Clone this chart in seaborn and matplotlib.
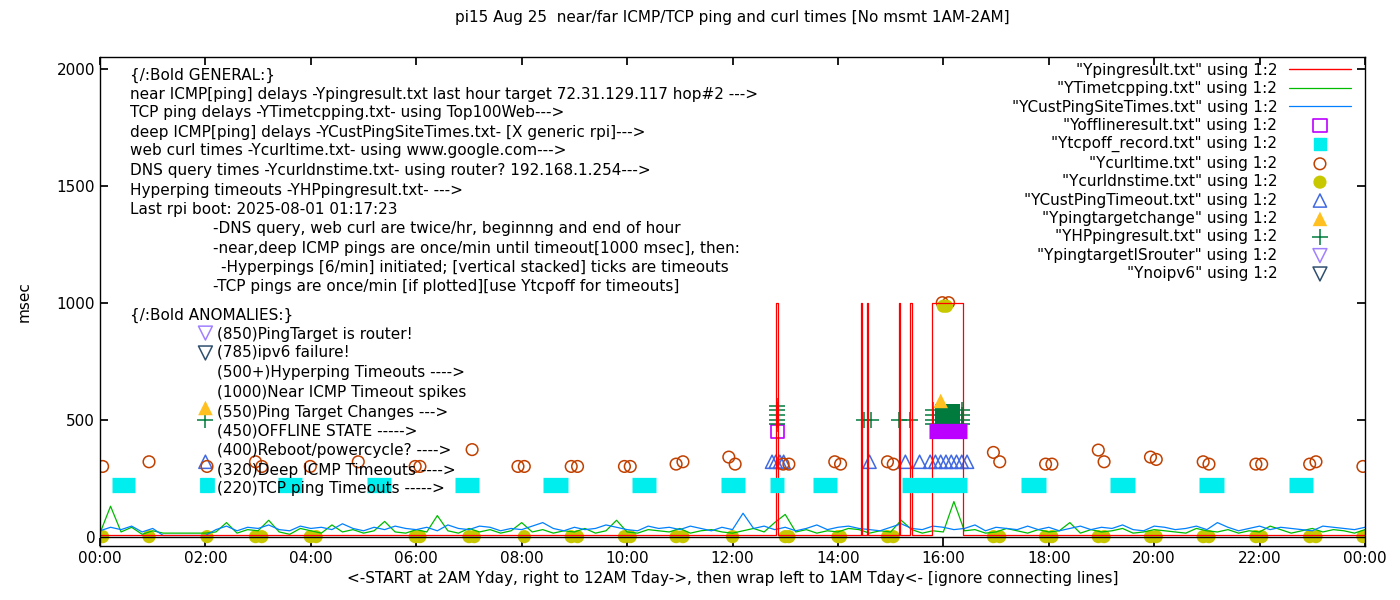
# =========================================================
# PI15 NEAR/FAR PING AND CURL TIMES
# =========================================================

import numpy as np
import matplotlib.pyplot as plt
import seaborn as sns

# =========================================================
# DATA (hours since midnight, msec)
# =========================================================
red_x = [0.0, 12.82, 12.82, 12.86, 12.86, 12.9, 14.43, 14.43, 14.45, 14.45, 14.56, 14.56, 14.58, 14.58,
         15.15, 15.15, 15.18, 15.18, 15.37, 15.37, 15.4, 15.4, 15.79, 15.79, 16.38, 16.38, 24.0]
red_y = [5, 5, 1000, 1000, 5, 5, 5, 1000, 1000, 5, 5, 1000, 1000, 5,
         5, 1000, 1000, 5, 5, 1000, 1000, 5, 5, 1000, 1000, 5, 5]

blue = [25, 40, 30, 45, 20, 35, 5, 5, 5, 5, 5, 30, 45, 25, 40, 35, 50, 30, 25, 45,
        35, 40, 30, 55, 35, 25, 40, 30, 45, 35, 30, 40, 25, 50, 35, 30, 45, 40, 25, 35,
        30, 45, 60, 35, 25, 40, 30, 35, 50, 40, 30, 25, 45, 35, 40, 30, 45, 35, 25, 40,
        30, 100, 35, 45, 30, 40, 25, 35, 50, 30, 40, 45, 35, 30, 25, 40, 55, 35, 30, 45,
        40, 30, 35, 50, 25, 40, 35, 30, 45, 30, 40, 25, 35, 45, 30, 40, 35, 50, 30, 25,
        45, 40, 30, 35, 45, 30, 60, 40, 25, 35, 45, 30, 40, 35, 30, 25, 45, 40, 35, 30, 40]
green = [15, 130, 20, 40, 10, 25, 15, 15, 15, 15, 15, 20, 60, 15, 30, 25, 70, 20, 10, 35,
         25, 15, 50, 20, 30, 15, 25, 65, 20, 15, 30, 20, 90, 25, 15, 35, 20, 30, 15, 25,
         60, 20, 30, 15, 25, 20, 35, 15, 25, 70, 20, 15, 30, 25, 20, 35, 15, 25, 30, 20,
         15, 25, 35, 20, 60, 95, 20, 30, 15, 25, 20, 35, 30, 15, 25, 20, 70, 30, 15, 25,
         20, 150, 25, 30, 15, 20, 35, 25, 15, 30, 20, 25, 60, 15, 30, 20, 25, 35, 15, 20,
         30, 25, 20, 15, 35, 25, 20, 30, 15, 25, 20, 45, 30, 15, 25, 35, 20, 30, 25, 15, 30]

curl_x = [0.05, 0.93, 2.03, 2.95, 3.07, 3.99, 4.9, 5.98, 6.07, 7.06, 7.93, 8.05, 8.94, 9.06,
          9.95, 10.06, 10.93, 11.06, 11.93, 12.05, 12.96, 13.07, 13.94, 14.05, 14.94, 15.05,
          15.98, 16.1, 16.95, 17.07, 17.94, 18.06, 18.94, 19.05, 19.93, 20.04, 20.93, 21.04,
          21.93, 22.04, 22.95, 23.07, 23.96]
curl_y = [300, 320, 300, 320, 300, 300, 320, 300, 300, 372, 300, 300, 300, 300,
          300, 300, 310, 320, 340, 310, 310, 310, 320, 310, 320, 310,
          1000, 1000, 360, 320, 310, 310, 370, 320, 340, 330, 320, 310,
          310, 310, 310, 320, 300]
dns_x = [0.05, 0.93, 2.03, 2.95, 3.07, 3.99, 4.1, 5.98, 6.07, 7.0, 7.1, 8.05, 8.94, 9.06,
         9.95, 10.06, 10.93, 11.06, 12.0, 13.0, 13.07, 14.0, 14.05, 14.94, 15.05, 16.0, 16.06,
         16.95, 17.07, 17.94, 18.06, 18.94, 19.05, 19.93, 20.04, 20.93, 21.04, 21.93, 22.04,
         22.95, 23.07, 23.96]
dns_y = [0, 0, 0, 0, 0, 0, 0, 0, 0, 0, 0, 0, 0, 0,
         0, 0, 0, 0, 0, 0, 0, 0, 0, 0, 0, 985, 985,
         0, 0, 0, 0, 0, 0, 0, 0, 0, 0, 0, 0,
         0, 0, 0]

tcpoff_start = [0.22, 1.9, 3.38, 5.06, 6.74, 8.41, 10.1, 11.78, 12.71, 13.53, 15.22, 17.48, 19.17, 20.86, 22.55]
tcpoff_end = [0.66, 2.12, 3.83, 5.52, 7.19, 8.87, 10.55, 12.24, 12.97, 13.98, 16.45, 17.95, 19.64, 21.33, 23.02]
tcpoff_y = [220] * len(tcpoff_start)

offline_x = [12.85]
offline_y = [450]
offline_fill_start, offline_fill_end, offline_fill_y = 15.72, 16.45, 450

custto_x = [2.0, 12.75, 12.82, 12.9, 12.97, 14.6, 15.28, 15.55, 15.75, 15.85, 15.95, 16.05, 16.15, 16.25, 16.35, 16.45]
custto_y = [320] * len(custto_x)

hp_x = [12.85, 12.85, 12.85, 12.85, 12.85, 14.5, 14.62, 15.15, 15.37, 15.8, 15.8, 15.8, 15.8, 16.35, 16.35, 16.35, 16.35, 2.0]
hp_y = [480, 500, 520, 540, 560, 500, 500, 500, 500, 480, 500, 520, 540, 480, 500, 520, 540, 500]
hp_block = (15.85, 16.32, 470, 565)

change_x = [15.95, 2.0]
change_y = [580, 550]
router_x, router_y = [2.0], [870]
noipv6_x, noipv6_y = [2.0], [785]
cyan_note_x, cyan_note_y = [2.03], [220]

# =========================================================
# ANNOTATION TEXT (pixel positions of the reference)
# =========================================================
notes = [
    (130, 75, "{/:Bold GENERAL:}"),
    (130, 95, "near ICMP[ping] delays -Ypingresult.txt last hour target 72.31.129.117 hop#2 --->"),
    (130, 113, "TCP ping delays -YTimetcpping.txt- using Top100Web--->"),
    (130, 132, "deep ICMP[ping] delays -YCustPingSiteTimes.txt- [X generic rpi]--->"),
    (130, 151, "web curl times -Ycurltime.txt- using www.google.com--->"),
    (130, 170, "DNS query times -Ycurldnstime.txt- using router? 192.168.1.254--->"),
    (130, 190, "Hyperping timeouts -YHPpingresult.txt- --->"),
    (130, 209, "Last rpi boot: 2025-08-01 01:17:23"),
    (213, 229, "-DNS query, web curl are twice/hr, beginnng and end of hour"),
    (213, 248, "-near,deep ICMP pings are once/min until timeout[1000 msec], then:"),
    (221, 267, "-Hyperpings [6/min] initiated; [vertical stacked] ticks are timeouts"),
    (213, 286, "-TCP pings are once/min [if plotted][use Ytcpoff for timeouts]"),
    (130, 315, "{/:Bold ANOMALIES:}"),
    (217, 334, "(850)PingTarget is router!"),
    (217, 353, "(785)ipv6 failure!"),
    (217, 373, "(500+)Hyperping Timeouts ---->"),
    (217, 392, "(1000)Near ICMP Timeout spikes"),
    (217, 412, "(550)Ping Target Changes --->"),
    (217, 431, "(450)OFFLINE STATE ----->"),
    (217, 450, "(400)Reboot/powercycle? ---->"),
    (217, 470, "(320)Deep ICMP Timeouts ---->"),
    (217, 489, "(220)TCP ping Timeouts ----->"),
]

# =========================================================
# STYLE
# =========================================================
sns.set_theme(style="ticks")
plt.rcParams['font.family'] = ['DejaVu Sans']
plt.rcParams['font.size'] = 11
plt.rcParams['text.color'] = 'black'
plt.rcParams['axes.labelcolor'] = 'black'
plt.rcParams['xtick.color'] = 'black'
plt.rcParams['ytick.color'] = 'black'

# =========================================================
# PLOT
# =========================================================
fig = plt.figure(figsize=(14, 6), dpi=100)
ax = fig.add_axes([100/1400, 54/600, 1265/1400, 489/600])

l_red, = ax.plot([], [], color='#ff0000', lw=1, label='"Ypingresult.txt" using 1:2')
sns.lineplot(x=np.linspace(0, 24, len(green)), y=green, color='#00bb00', lw=0.9, ax=ax,
             label='"YTimetcpping.txt" using 1:2')
sns.lineplot(x=np.linspace(0, 24, len(blue)), y=blue, color='#0080ff', lw=0.9, ax=ax,
             label='"YCustPingSiteTimes.txt" using 1:2')
sns.lineplot(x=red_x, y=red_y, color='#ff0000', lw=0.9, ax=ax, sort=False, estimator=None)

ax.hlines(tcpoff_y, tcpoff_start, tcpoff_end, color='#00eeee', lw=11)
ax.scatter([], [], marker='s', color='#00eeee', s=80, label='"Ytcpoff_record.txt" using 1:2')
sns.scatterplot(x=cyan_note_x, y=cyan_note_y, marker='s', color='#00eeee', s=130, ax=ax, legend=False)

ax.hlines([offline_fill_y], [offline_fill_start], [offline_fill_end], color='#bb00ff', lw=11)
sns.scatterplot(x=offline_x, y=offline_y, marker='s', facecolor='none', edgecolor='#bb00ff',
                s=90, linewidth=1.2, ax=ax, label='"Yofflineresult.txt" using 1:2')

ax.fill_between([hp_block[0], hp_block[1]], hp_block[2], hp_block[3], color='#007a3d', lw=0)
sns.scatterplot(x=hp_x, y=hp_y, marker='+', color='#007a3d', s=120, linewidth=1.1, ax=ax,
                label='"YHPpingresult.txt" using 1:2')

sns.scatterplot(x=custto_x, y=custto_y, marker='^', facecolor='none', edgecolor='#4169e1',
                s=90, linewidth=1.1, ax=ax, label='"YCustPingTimeout.txt" using 1:2')
sns.scatterplot(x=curl_x, y=curl_y, marker='o', facecolor='none', edgecolor='#c04000',
                s=70, linewidth=1.1, ax=ax, label='"Ycurltime.txt" using 1:2')
sns.scatterplot(x=dns_x, y=dns_y, marker='o', color='#c8c800', edgecolor='none', s=90, ax=ax,
                label='"Ycurldnstime.txt" using 1:2')
sns.scatterplot(x=change_x, y=change_y, marker='^', color='#ffc020', edgecolor='none', s=110, ax=ax,
                label='"Ypingtargetchange" using 1:2')
sns.scatterplot(x=router_x, y=router_y, marker='v', facecolor='none', edgecolor='#a080ff',
                s=100, linewidth=1.1, ax=ax, label='"YpingtargetISrouter" using 1:2')
sns.scatterplot(x=noipv6_x, y=noipv6_y, marker='v', facecolor='none', edgecolor='#2f4f6f',
                s=100, linewidth=1.1, ax=ax, label='"Ynoipv6" using 1:2')
ax.axhline(0, color='black', lw=1)

# legend in gnuplot order
order = ['"Ypingresult.txt" using 1:2', '"YTimetcpping.txt" using 1:2',
         '"YCustPingSiteTimes.txt" using 1:2', '"Yofflineresult.txt" using 1:2',
         '"Ytcpoff_record.txt" using 1:2', '"Ycurltime.txt" using 1:2',
         '"Ycurldnstime.txt" using 1:2', '"YCustPingTimeout.txt" using 1:2',
         '"Ypingtargetchange" using 1:2', '"YHPpingresult.txt" using 1:2',
         '"YpingtargetISrouter" using 1:2', '"Ynoipv6" using 1:2']
handles, labels = ax.get_legend_handles_labels()
lookup = dict(zip(labels, handles))
ax.legend([lookup[k] for k in order], order, loc='upper right', frameon=False, markerfirst=False,
          fontsize=11, handlelength=4, labelspacing=0.22, borderaxespad=0.3, bbox_to_anchor=(0.997, 1.01))

for x, y, s in notes:
    fig.text(x/1400, 1 - y/600, s, fontsize=11, va='center', ha='left')

ax.set_xlim(0, 24)
ax.set_ylim(-40, 2050)
ax.set_xticks(range(0, 25, 2))
ax.set_xticklabels([f"{h % 24:02d}:00" for h in range(0, 25, 2)])
ax.set_yticks(range(0, 2001, 500))
ax.tick_params(direction='in', top=True, right=True, labelsize=11, length=6)
ax.set_xlabel("<-START at 2AM Yday, right to 12AM Tday->, then wrap left to 1AM Tday<- [ignore connecting lines]",
              fontsize=11)
ax.set_ylabel("msec", fontsize=11, labelpad=18)
ax.set_title("pi15 Aug 25  near/far ICMP/TCP ping and curl times [No msmt 1AM-2AM]", fontsize=11, pad=25)
for sp in ax.spines.values():
    sp.set_linewidth(1)
    sp.set_color('black')

plt.savefig("out.png", dpi=100)
